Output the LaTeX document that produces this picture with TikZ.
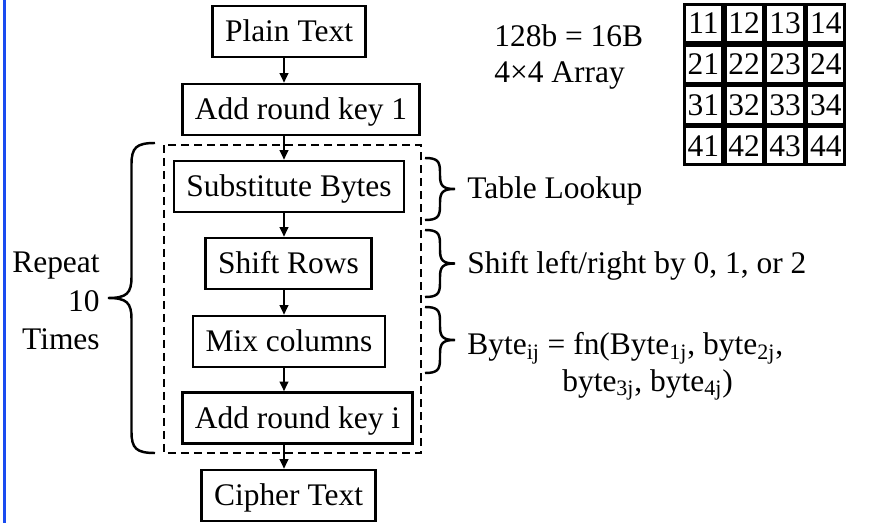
\documentclass[tikz,border=0pt]{standalone}
\usepackage{fontspec}
\setmainfont{Liberation Serif}
\usetikzlibrary{arrows.meta}
\definecolor{edgeblue}{RGB}{26,75,240}

% curly brace: x of the ends, top, bottom, amplitude (negative points left)
\newcommand{\curlybrace}[4]{%
  \draw[brace line]
    (#1, #2) .. controls ({#1+0.4*(#4)}, #2) and ({#1+0.5*(#4)}, {#2+0.1*abs(#4)}) .. ({#1+0.5*(#4)}, {#2+0.45*abs(#4)})
    -- ({#1+0.5*(#4)}, {(#2+#3)/2-0.45*abs(#4)})
    .. controls ({#1+0.5*(#4)}, {(#2+#3)/2-0.1*abs(#4)}) and ({#1+0.6*(#4)}, {(#2+#3)/2}) .. ({#1+(#4)}, {(#2+#3)/2})
    .. controls ({#1+0.6*(#4)}, {(#2+#3)/2}) and ({#1+0.5*(#4)}, {(#2+#3)/2+0.1*abs(#4)}) .. ({#1+0.5*(#4)}, {(#2+#3)/2+0.45*abs(#4)})
    -- ({#1+0.5*(#4)}, {#3-0.45*abs(#4)})
    .. controls ({#1+0.5*(#4)}, {#3-0.1*abs(#4)}) and ({#1+0.4*(#4)}, #3) .. (#1, #3);
}

\begin{document}
\begin{tikzpicture}[x=0.02cm, y=-0.02cm,
        every node/.style={font=\fontsize{17.9pt}{21pt}\selectfont},
        stepbox/.style={draw, line width=1.5pt, inner xsep=0.25cm, inner ysep=0pt,
            minimum height=1.02cm, text height=12.5pt, text depth=1pt},
        flow/.style={line width=1pt, -{Triangle[length=5.5pt, width=5pt]}},
        cell/.style={draw, line width=1.6pt, minimum size=0.76cm, inner sep=0pt},
        brace line/.style={line width=1.4pt},
        note/.style={inner sep=0pt}]
    \useasboundingbox (0, 0) rectangle (878, 523);
    \draw [edgeblue, line width=0.055cm] (4.5, 0) -- (4.5, 523);

    % the rounds
    \draw [line width=1.4pt, dash pattern=on 0.16cm off 0.1cm] (164, 145) rectangle (421, 453);
    \node [stepbox] (plain) at (289, 31.5) {Plain Text};
    \node [stepbox] (key1) at (301, 109.5) {Add round key 1};
    \node [stepbox] (subst) at (289, 186.5) {Substitute Bytes};
    \node [stepbox] (shift) at (288.5, 263.5) {Shift Rows};
    \node [stepbox] (mix) at (289, 341.5) {Mix columns};
    \node [stepbox] (keyi) at (297.5, 418) {Add round key i};
    \node [stepbox] (cipher) at (288.5, 495.5) {Cipher Text};

    \coordinate (axis) at (284, 0);
    \draw [flow] (plain.south -| axis) -- (key1.north -| axis);
    \draw [flow] (key1.south -| axis) -- (subst.north -| axis);
    \draw [flow] (subst.south -| axis) -- (shift.north -| axis);
    \draw [flow] (shift.south -| axis) -- (mix.north -| axis);
    \draw [flow] (mix.south -| axis) -- (keyi.north -| axis);
    \draw [flow] (keyi.south -| axis) -- (cipher.north -| axis);

    % block size and the state array
    \node [note, anchor=west, align=left] (size) at (494, 57) {128b = 16B\\4×4 Array};
    \foreach \r in {1,...,4}
        \foreach \c in {1,...,4}
            \node [cell] (m\r\c) at ({683+40.8*(\c-0.5)}, {3+40.8*(\r-0.5)}) {\r\c};

    % braces and their notes
    \curlybrace{155}{143}{453}{-47}
    \curlybrace{425}{158}{220}{30}
    \curlybrace{425}{230}{297}{30}
    \curlybrace{425}{307}{373}{30}
    \node [note, anchor=east, align=right, font=\fontsize{17.9pt}{22.1pt}\selectfont] (repeat) at (100, 301) {Repeat\\10\\Times};
    \node [note, anchor=base west] (lookup) at (467, 199) {Table Lookup};
    \node [note, anchor=base west] (rows) at (467, 274) {Shift left/right by 0, 1, or 2};
    \node [note, anchor=north west, align=left] (bytes) at (467, 332)
        {Byte\textsubscript{ij} = fn(Byte\textsubscript{1j}, byte\textsubscript{2j},\\\hspace*{1.9cm}byte\textsubscript{3j}, byte\textsubscript{4j})};
\end{tikzpicture}
\end{document}
